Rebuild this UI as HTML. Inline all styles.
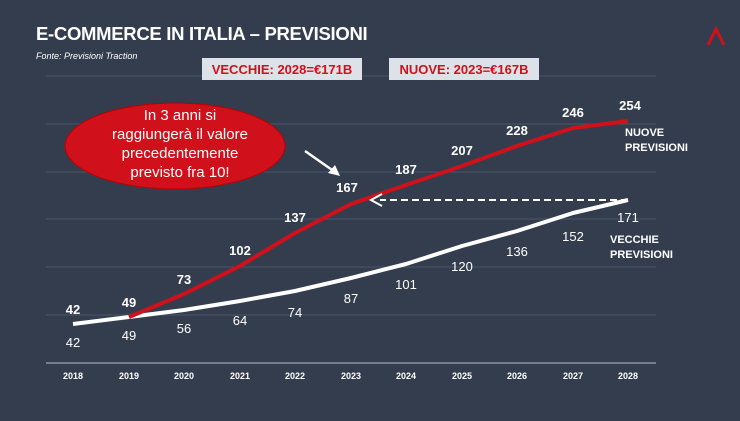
<!DOCTYPE html><html><head><meta charset="utf-8"><style>
body{margin:0;width:740px;height:416px;background:#333d4e;overflow:hidden;font-family:"Liberation Sans",sans-serif}
</style></head><body>
<svg width="740" height="416" viewBox="0 0 740 416" xmlns="http://www.w3.org/2000/svg" font-family="Liberation Sans, sans-serif">
<text x="36" y="40" fill="#fff" font-size="18.5" font-weight="bold" letter-spacing="-0.3">E-COMMERCE IN ITALIA – PREVISIONI</text>
<text x="36" y="59" fill="#fff" font-size="9" font-style="italic">Fonte: Previsioni Traction</text>
<path d="M708 45 L716 29 L724 45" stroke="#d0101a" stroke-width="3" fill="none"/>
<g stroke="#4a5569" stroke-width="1">
<line x1="46" y1="76" x2="656" y2="76"/><line x1="46" y1="124" x2="656" y2="124"/><line x1="46" y1="172" x2="656" y2="172"/><line x1="46" y1="219" x2="656" y2="219"/><line x1="46" y1="267" x2="656" y2="267"/><line x1="46" y1="315" x2="656" y2="315"/></g>
<line x1="46" y1="363" x2="656" y2="363" stroke="#8a93a3" stroke-width="1.5"/>
<rect x="202" y="58" width="160" height="22" fill="#dde1e8"/>
<text x="282" y="74" fill="#d0101a" font-size="13" font-weight="bold" text-anchor="middle">VECCHIE: 2028=€171B</text>
<rect x="389" y="58" width="150" height="22" fill="#dde1e8"/>
<text x="464" y="74" fill="#d0101a" font-size="13" font-weight="bold" text-anchor="middle">NUOVE: 2023=€167B</text>
<polyline fill="none" stroke="#fff" stroke-width="4" stroke-linejoin="round" points="73,324 129,317 184,310 240,301 295,291 351,278 406,264 462,246 517,231 573,213 628,200"/>
<polyline fill="none" stroke="#d0101a" stroke-width="4" stroke-linejoin="round" points="129,317 184,294 240,266 295,233 351,204 406,185 462,166 517,146 573,128 628,121"/>
<line x1="628" y1="200" x2="380" y2="200" stroke="#fff" stroke-width="2" stroke-dasharray="7,4"/>
<path d="M382 194 L371 200 L382 206" stroke="#fff" stroke-width="2" fill="none"/>
<ellipse cx="175" cy="146" rx="110" ry="43" fill="#d0101a" stroke="#b00" stroke-width="1"/>
<g fill="#fff" font-size="15" text-anchor="middle"><text x="180" y="120">In 3 anni si</text><text x="180" y="139">raggiungerà il valore</text><text x="180" y="158">precedentemente</text><text x="180" y="177">previsto fra 10!</text></g>
<line x1="305" y1="151" x2="335" y2="172" stroke="#fff" stroke-width="2.5"/>
<path d="M328 173 L340 176 L335 165 Z" fill="#fff"/>
<g fill="#fff" font-size="13" font-weight="bold" text-anchor="middle">
<text x="73" y="314">42</text><text x="129" y="307">49</text><text x="184" y="284">73</text><text x="240" y="255">102</text><text x="295" y="222">137</text><text x="347" y="192">167</text><text x="406" y="174">187</text><text x="462" y="155">207</text><text x="517" y="135">228</text><text x="573" y="117">246</text><text x="630" y="110">254</text></g>
<g fill="#fff" font-size="13" text-anchor="middle">
<text x="73" y="347">42</text><text x="129" y="340">49</text><text x="184" y="333">56</text><text x="240" y="325">64</text><text x="295" y="317">74</text><text x="351" y="303">87</text><text x="406" y="289">101</text><text x="462" y="271">120</text><text x="517" y="256">136</text><text x="573" y="241">152</text><text x="628" y="222">171</text></g>
<g fill="#fff" font-size="11" font-weight="bold"><text x="625" y="136">NUOVE</text><text x="625" y="151">PREVISIONI</text><text x="610" y="243">VECCHIE</text><text x="610" y="258">PREVISIONI</text></g>
<g fill="#fff" font-size="9" font-weight="bold" text-anchor="middle">
<text x="73" y="379">2018</text><text x="129" y="379">2019</text><text x="184" y="379">2020</text><text x="240" y="379">2021</text><text x="295" y="379">2022</text><text x="351" y="379">2023</text><text x="406" y="379">2024</text><text x="462" y="379">2025</text><text x="517" y="379">2026</text><text x="573" y="379">2027</text><text x="628" y="379">2028</text></g>
</svg></body></html>
